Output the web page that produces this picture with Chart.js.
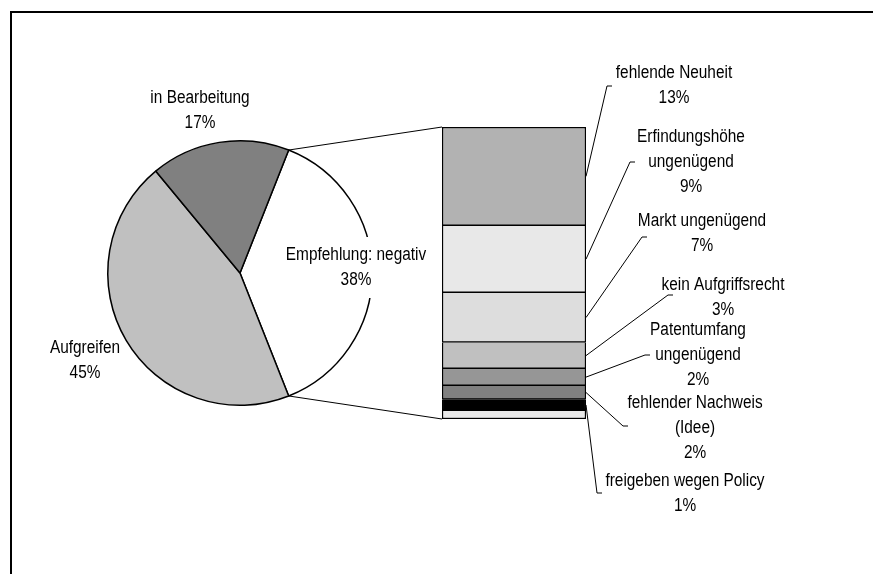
<!DOCTYPE html>
<html>
<head>
<meta charset="utf-8">
<script src="https://cdn.jsdelivr.net/npm/chart.js@4/dist/chart.umd.min.js"></script>
<style>
  body { margin: 0; background: #fff; }
  #wrap { position: relative; width: 873px; height: 574px; overflow: hidden; }
  #wrap canvas { position: absolute; left: 0; top: 0; }
  #frame { position: absolute; left: 10px; top: 11px; width: 900px; height: 600px;
           border-top: 2px solid #000; border-left: 2px solid #000; }
</style>
</head>
<body>
<div id="wrap">
  <div id="frame"></div>
  <canvas id="pieChart" width="873" height="574"></canvas>
  <canvas id="barChart" width="873" height="574"></canvas>
</div>
<script>
// pie: main categories (first slice is split into the bar)
const pieLabels = ['Empfehlung: negativ', 'Aufgreifen', 'in Bearbeitung'];
const pieValues = [38, 45, 17];
const pieColors = ['#ffffff', '#c0c0c0', '#808080'];

// bar: breakdown of "Empfehlung: negativ", top to bottom
const barLabels = [
    ['fehlende Neuheit'],
    ['Erfindungshöhe', 'ungenügend'],
    ['Markt ungenügend'],
    ['kein Aufgriffsrecht'],
    ['Patentumfang', 'ungenügend'],
    ['fehlender Nachweis', '(Idee)'],
    ['freigeben wegen Policy'],
    []
];
const barValues = [12.85, 8.7, 6.5, 3.4, 2.2, 1.8, 1.45, 1.1];
const barColors = ['#b2b2b2', '#e8e8e8', '#dddddd', '#c0c0c0', '#969696', '#808080', '#000000', '#eaeaea'];

// Arial-Narrow look: Liberation Sans squeezed horizontally
const FONT = '18px "Liberation Sans", Arial, sans-serif';
const SQUEEZE = 0.855;
const LINE_H = 25;

// label placement: [center x, first line y], leader end [x, y]
const pieLabelPos = [[356, 255], [85, 348], [200, 98]];
const barLabelPos = [[674, 73], [691, 137], [702, 221], [723, 285], [698, 330], [695, 403], [685, 481], null];
const leaderEnds = [[607, 86], [630, 162], [642, 237], [668, 295], [645, 355], [623, 426], [597, 493], null];

const pieTotal = pieValues.reduce((a, b) => a + b, 0);
const barTotal = barValues.reduce((a, b) => a + b, 0);

function drawLines(ctx, lines, cx, y, boxed) {
    ctx.save();
    ctx.font = FONT;
    ctx.textAlign = 'center';
    ctx.textBaseline = 'middle';
    if (boxed) {
        let w = Math.max(...lines.map(t => ctx.measureText(t).width)) * SQUEEZE;
        ctx.fillStyle = '#fff';
        ctx.fillRect(cx - w / 2 - 4, y - 18, w + 8, (lines.length - 1) * LINE_H + 36);
    }
    ctx.fillStyle = '#000';
    ctx.translate(cx, y);
    ctx.scale(SQUEEZE, 1);
    lines.forEach((t, i) => ctx.fillText(t, 0, i * LINE_H));
    ctx.restore();
}

const pieLabelPlugin = {
    id: 'pieLabels',
    afterDraw(chart) {
        let ctx = chart.ctx;
        pieLabels.forEach((name, i) => {
            let pct = Math.round(pieValues[i] / pieTotal * 100) + '%';
            drawLines(ctx, [name, pct], pieLabelPos[i][0], pieLabelPos[i][1], i === 0);
        });
    }
};

let pieChart = new Chart(document.getElementById('pieChart').getContext('2d'), {
    type: 'pie',
    data: {
        labels: pieLabels,
        datasets: [{
            data: pieValues,
            backgroundColor: pieColors,
            borderColor: '#000',
            borderWidth: 1.5
        }]
    },
    options: {
        responsive: false,
        animation: false,
        // centre the split slice on the right side
        rotation: 90 - pieValues[0] / pieTotal * 180,
        layout: { padding: { left: 107, right: 500, top: 140, bottom: 168 } },
        plugins: { legend: { display: false }, tooltip: { enabled: false } }
    },
    plugins: [pieLabelPlugin]
});

const barLabelPlugin = {
    id: 'barLabels',
    afterDraw(chart) {
        let ctx = chart.ctx;
        ctx.save();
        ctx.strokeStyle = '#000';
        ctx.lineWidth = 1;

        // connectors from split slice to bar
        let arc = pieChart.getDatasetMeta(0).data[0];
        let top = chart.getDatasetMeta(0).data[0];
        let bottom = chart.getDatasetMeta(barValues.length - 1).data[0];
        let left = top.x - top.width / 2;
        let r = arc.outerRadius;
        ctx.beginPath();
        ctx.moveTo(arc.x + r * Math.cos(arc.startAngle), arc.y + r * Math.sin(arc.startAngle));
        ctx.lineTo(left, top.base);
        ctx.moveTo(arc.x + r * Math.cos(arc.endAngle), arc.y + r * Math.sin(arc.endAngle));
        ctx.lineTo(left, bottom.y);
        ctx.stroke();

        // data labels with leader lines
        barLabels.forEach((lines, i) => {
            if (!lines.length) return;
            let bar = chart.getDatasetMeta(i).data[0];
            let px = bar.x + bar.width / 2;
            let py = (bar.y + bar.base) / 2;
            let end = leaderEnds[i];
            ctx.beginPath();
            ctx.moveTo(px, py);
            ctx.lineTo(end[0], end[1]);
            ctx.lineTo(end[0] + 5, end[1]);
            ctx.stroke();
            let pct = Math.round(barValues[i] / pieTotal * 100) + '%';
            drawLines(ctx, lines.concat([pct]), barLabelPos[i][0], barLabelPos[i][1], false);
        });
        ctx.restore();
    }
};

new Chart(document.getElementById('barChart').getContext('2d'), {
    type: 'bar',
    data: {
        labels: [''],
        datasets: barValues.map((v, i) => ({
            data: [v],
            backgroundColor: barColors[i],
            borderColor: '#000',
            // one line between neighbouring segments
            borderWidth: { top: i === 0 ? 1.5 : 0, bottom: 1.5, left: 1.5, right: 1.5 },
            borderSkipped: false,
            barPercentage: 1,
            categoryPercentage: 1
        }))
    },
    options: {
        responsive: false,
        animation: false,
        layout: { padding: { left: 442, right: 287, top: 127, bottom: 155 } },
        scales: {
            x: { display: false, stacked: true },
            y: { display: false, stacked: true, reverse: true, min: 0, max: barTotal }
        },
        plugins: { legend: { display: false }, tooltip: { enabled: false } }
    },
    plugins: [barLabelPlugin]
});
</script>
</body>
</html>
